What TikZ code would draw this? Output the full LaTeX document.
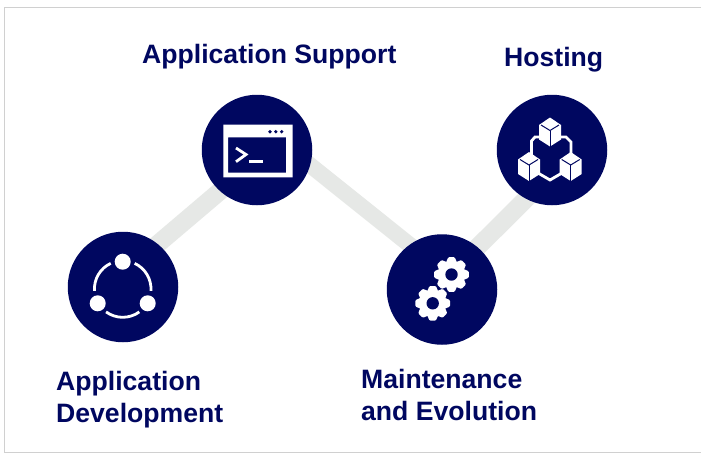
\documentclass[tikz,border=0pt]{standalone}
\usepackage{fontspec}
\setmainfont{Liberation Sans}
\definecolor{navy}{RGB}{0,7,96}
\definecolor{band}{RGB}{230,232,230}
\definecolor{frame}{RGB}{208,208,208}
\tikzset{
  x=1pt,y=-1pt,
  disc/.style={circle,draw=none,minimum size=110.5pt,inner sep=0pt},
  link/.style={draw=band,line width=#1,shorten >=-7pt,shorten <=-7pt},
  lab/.style={font=\bfseries\fontsize{26.6}{32}\selectfont,text=navy,align=left,inner sep=0pt},
  ico/.style={draw=white,line width=2.8pt},
  cube/.pic={
    \fill[white] (-11,-7) -- (0,-14.5) -- (11,-7) -- (11,7.5) -- (0,14.5) -- (-11,7.5) -- cycle;
    \draw[navy,line width=1pt] (-9,-7) -- (0,-1.5) -- (9,-7);
    \draw[navy,line width=1pt] (0,-1.5) -- (0,14.5);
  },
  gear/.pic={
    \fill[white] (0,0) circle (13.8);
    \foreach \a in {0,45,...,315}{
      \fill[white,rotate=\a,rounded corners=1pt] (-5.5,-12) -- (-3.2,-17.3) -- (3.2,-17.3) -- (5.5,-12) -- cycle;
    }
    \fill[navy] (0,0) circle (6.2);
  }
}
\begin{document}
\begin{tikzpicture}
\useasboundingbox (0,0) rectangle (701,453);
\fill[white] (0,0) rectangle (701,453);
\draw[frame,line width=1pt] (701,7.5) -- (4,7.5) -- (4,452) -- (701,452);
\node[disc] (dev) at (123,287) {};
\node[disc] (sup) at (257,150) {};
\node[disc] (mnt) at (442,289.5) {};
\node[disc] (hst) at (552,150) {};
\draw[link=18pt] (dev.51) -- (sup.228.5);
\draw[link=16pt] (sup.-16.7) -- (mnt.126.8);
\draw[link=18pt] (mnt.50.8) -- (hst.242.6);
\fill[navy] (dev.center) circle (55.25) (sup.center) circle (55.25) (mnt.center) circle (55.25) (hst.center) circle (55.25);
% development icon
\fill[white] (122.7,261.7) circle (8) (97.7,303.3) circle (8) (147.7,303.3) circle (8);
\draw[ico] (122.7,289) ++(-184:28.3) arc[start angle=-184,end angle=-115,radius=28.3];
\draw[ico] (122.7,289) ++(4:28.3) arc[start angle=4,end angle=-65,radius=28.3];
\draw[ico] (122.7,289) ++(-234:28.3) arc[start angle=-234,end angle=-306,radius=28.3];
% terminal icon
\fill[white,even odd rule] (223.3,124.7) rectangle (292.7,177.3) (228,137.3) rectangle (286,172.7);
\fill[navy] (270,131.7) circle (1.8) (275.8,131.7) circle (1.8) (281.7,131.7) circle (1.8);
\draw[ico] (236,148) -- (246,154.5) -- (236,161.7);
\draw[ico] (249.3,161.7) -- (262.7,161.7);
% hosting icon
\draw[ico] (541,137) -- (535,137) -- (531.5,141) -- (531.5,156);
\draw[ico] (559,137) -- (566,137) -- (571,142) -- (571,156);
\draw[ico] (538,173) -- (550,180) -- (562,173);
\pic at (550,132) {cube};
\pic at (529,166.5) {cube};
\pic at (570.7,166.5) {cube};
% gears
\pic at (451.5,274.5) {gear};
\pic at (432.7,303.3) {gear};
% labels
\node[lab,anchor=base west] at (142,63) {Application Support};
\node[lab,anchor=base west] at (504,66) {Hosting};
\node[lab,anchor=base west] at (56,390) {Application};
\node[lab,anchor=base west] at (56,422) {Development};
\node[lab,anchor=base west] at (361,388) {Maintenance};
\node[lab,anchor=base west] at (361,420) {and Evolution};
\end{tikzpicture}
\end{document}
